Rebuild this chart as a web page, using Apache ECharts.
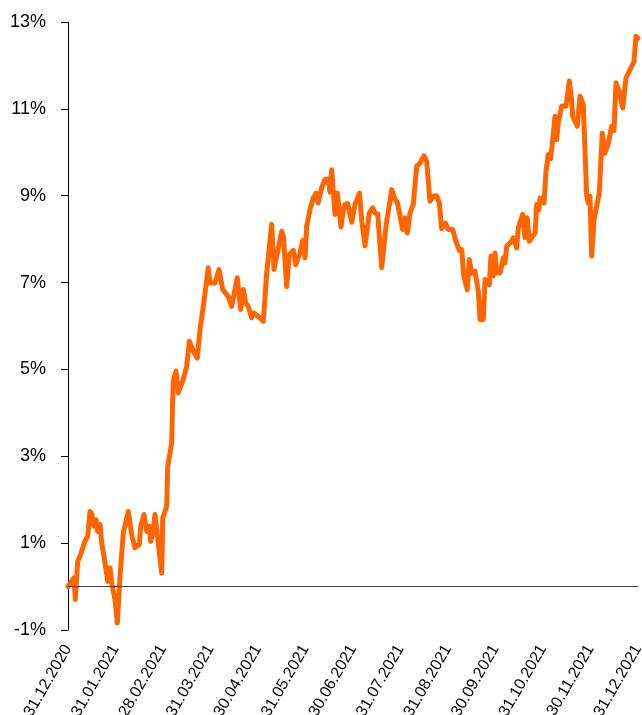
<!DOCTYPE html>
<html>
<head>
<meta charset="utf-8">
<script src="https://cdn.jsdelivr.net/npm/echarts@6/dist/echarts.min.js"></script>
<style>
  html, body { margin: 0; padding: 0; background: #fff; }
  #chart { width: 642px; height: 715px; }
</style>
</head>
<body>
<div id="chart"></div>
<script>
// month-end tick labels (x axis, one per month step)
const dateLabels = ['31.12.2020', '31.01.2021', '28.02.2021', '31.03.2021', '30.04.2021', '31.05.2021',
	'30.06.2021', '31.07.2021', '31.08.2021', '30.09.2021', '31.10.2021', '30.11.2021', '31.12.2021'];

// position along the year, in months since 31.12.2020
const monthPos = [
	0.000, 0.078, 0.126, 0.154, 0.204, 0.253, 0.322, 0.358, 0.389, 0.415,
	0.442, 0.463, 0.505, 0.547, 0.589, 0.625, 0.674, 0.709, 0.758, 0.800,
	0.836, 0.884, 0.920, 0.954, 0.989, 1.038, 1.095, 1.164, 1.269, 1.305,
	1.347, 1.411, 1.501, 1.531, 1.600, 1.657, 1.712, 1.741, 1.783, 1.832,
	1.867, 1.973, 1.994, 2.078, 2.099, 2.183, 2.204, 2.217, 2.274, 2.322,
	2.427, 2.499, 2.554, 2.638, 2.722, 2.779, 2.848, 2.954, 2.989, 3.095,
	3.179, 3.257, 3.375, 3.446, 3.564, 3.636, 3.691, 3.741, 3.796, 3.867,
	3.916, 4.006, 4.112, 4.183, 4.288, 4.337, 4.379, 4.499, 4.537, 4.604,
	4.659, 4.743, 4.794, 4.884, 4.941, 4.989, 5.025, 5.095, 5.164, 5.221,
	5.263, 5.341, 5.411, 5.480, 5.516, 5.552, 5.621, 5.669, 5.747, 5.796,
	5.832, 5.888, 5.973, 6.042, 6.137, 6.183, 6.253, 6.343, 6.415, 6.463,
	6.520, 6.604, 6.695, 6.815, 6.884, 6.933, 7.046, 7.095, 7.143, 7.200,
	7.269, 7.341, 7.411, 7.495, 7.552, 7.621, 7.691, 7.762, 7.817, 7.867,
	7.945, 8.006, 8.099, 8.168, 8.238, 8.288, 8.333, 8.406, 8.448, 8.499,
	8.568, 8.638, 8.674, 8.743, 8.779, 8.869, 8.905, 8.954, 8.989, 9.021,
	9.095, 9.164, 9.200, 9.236, 9.341, 9.375, 9.446, 9.480, 9.573, 9.621,
	9.669, 9.712, 9.832, 9.867, 9.916, 9.937, 10.021, 10.063, 10.112, 10.162,
	10.217, 10.253, 10.288, 10.322, 10.394, 10.484, 10.554, 10.604, 10.625, 10.722,
	10.779, 10.848, 10.920, 10.954, 10.989, 11.025, 11.074, 11.185, 11.248, 11.305,
	11.375, 11.446, 11.495, 11.537, 11.606, 11.678, 11.747, 11.832, 11.916, 11.958,
	12.000
];

// cumulative return, %
const returnPct = [
	0.00, 0.12, 0.20, -0.30, 0.58, 0.70, 0.93, 1.04, 1.00, 1.16,
	1.12, 1.73, 1.66, 1.39, 1.54, 1.27, 1.43, 1.01, 0.70, 0.39,
	0.12, 0.43, 0.08, 0.05, -0.30, -0.84, 0.24, 1.24, 1.73, 1.77,
	1.16, 0.89, 0.97, 1.39, 1.66, 1.27, 1.39, 1.04, 1.24, 1.66,
	1.31, 0.31, 1.58, 1.85, 2.77, 3.31, 4.30, 4.73, 4.96, 4.46,
	4.77, 5.07, 5.65, 5.42, 5.26, 5.92, 6.45, 7.34, 6.99, 6.99,
	7.30, 6.84, 6.68, 6.45, 7.11, 6.38, 6.84, 6.53, 6.45, 6.19,
	6.30, 6.22, 6.11, 7.22, 8.34, 7.30, 7.34, 8.18, 8.05, 6.91,
	7.64, 7.74, 7.41, 7.68, 7.97, 7.57, 8.30, 8.68, 8.95, 9.06,
	8.83, 9.18, 9.38, 9.38, 9.08, 9.60, 8.57, 9.06, 8.28, 8.68,
	8.80, 8.82, 8.39, 8.80, 9.06, 8.43, 7.85, 8.60, 8.72, 8.60,
	8.58, 7.34, 8.30, 9.14, 8.91, 8.85, 8.22, 8.49, 8.14, 8.60,
	8.80, 9.68, 9.75, 9.92, 9.79, 8.87, 8.99, 9.00, 8.83, 8.24,
	8.37, 8.22, 8.22, 7.95, 7.74, 7.76, 7.15, 6.84, 7.53, 7.22,
	7.26, 6.80, 6.15, 6.15, 7.07, 6.95, 7.61, 7.15, 7.68, 7.22,
	7.22, 7.57, 7.45, 7.84, 7.95, 8.03, 7.80, 8.26, 8.57, 8.03,
	8.49, 7.95, 8.14, 8.80, 8.68, 8.95, 8.83, 9.56, 9.95, 9.85,
	10.41, 10.83, 10.29, 10.70, 11.06, 11.06, 11.64, 11.20, 10.83, 10.60,
	11.29, 11.10, 8.99, 8.83, 8.99, 7.61, 8.45, 9.06, 10.44, 9.98,
	10.21, 10.60, 10.50, 11.60, 11.41, 11.02, 11.71, 11.90, 12.09, 12.67,
	12.63
];

const seriesData = monthPos.map((m, i) => [m, returnPct[i]]);
const fontFam = 'Arial, "Liberation Sans", sans-serif';

const chart = echarts.init(document.getElementById('chart'), null, { renderer: 'canvas' });

chart.setOption({
	animation: false,
	backgroundColor: '#fff',
	grid: {
		left: 68,
		right: 4,
		top: 22,
		bottom: 85,
		containLabel: false,
		outerBoundsMode: 'none'
	},
	xAxis: {
		type: 'value',
		min: 0,
		max: 12,
		interval: 1,
		axisLine: { show: false },
		axisTick: { show: false },
		splitLine: { show: false },
		axisLabel: {
			rotate: 60,
			margin: 16,
			color: '#000',
			fontSize: 16,
			fontFamily: fontFam,
			formatter: v => dateLabels[Math.round(v)] || ''
		}
	},
	yAxis: {
		type: 'value',
		min: -1,
		max: 13,
		interval: 2,
		axisLine: { show: true, lineStyle: { color: '#000', width: 1 } },
		axisTick: { show: true, length: 7, lineStyle: { color: '#000' } },
		splitLine: { show: false },
		axisLabel: {
			margin: 22,
			color: '#000',
			fontSize: 18,
			fontFamily: fontFam,
			formatter: '{value}%'
		}
	},
	series: [
		{
			name: 'return',
			type: 'line',
			data: seriesData,
			showSymbol: false,
			symbol: 'none',
			smooth: false,
			lineStyle: { color: '#ff6600', width: 5, join: 'round', cap: 'round' },
			markLine: {
				silent: true,
				symbol: 'none',
				label: { show: false },
				lineStyle: { color: '#404040', width: 1, type: 'solid' },
				data: [{ yAxis: 0 }]
			},
			z: 3
		}
	]
});
</script>
</body>
</html>
